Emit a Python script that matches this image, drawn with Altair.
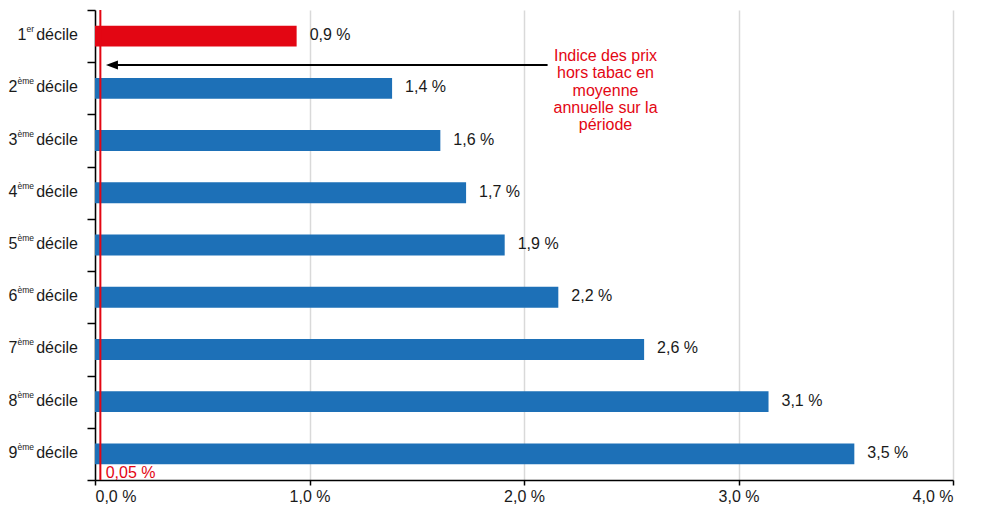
import altair as alt
import pandas as pd

# Data
deciles = ["1", "2", "3", "4", "5", "6", "7", "8", "9"]
sups = ["er", "ème", "ème", "ème", "ème", "ème", "ème", "ème", "ème"]
values = [0.94, 1.385, 1.61, 1.73, 1.91, 2.16, 2.56, 3.14, 3.54]
bar_colors = ["#e30613"] + ["#1d70b7"] * 8
ref_line = 0.025          # red vertical line position (as drawn)
ref_label = "0,05 %"
annot_lines = ["Indice des prix", "hors tabac en", "moyenne", "annuelle sur la", "période"]
x_ticks = [0, 1, 2, 3, 4]

RED = "#e30613"
FONT = "Liberation Sans"
FS = 16

df = pd.DataFrame({
    "cat": [f"{d}{s} décile" for d, s in zip(deciles, sups)],
    "digit": deciles,
    "sup": sups,
    "value": values,
    "color": bar_colors,
})
order = list(df["cat"])

y_enc = alt.Y("cat:N", sort=order,
              scale=alt.Scale(paddingInner=0, paddingOuter=0),
              axis=alt.Axis(title=None, labels=False, tickBand="extent",
                            domainColor="black", domainWidth=1.5,
                            tickColor="black", tickSize=8, tickWidth=1.5))
x_scale = alt.Scale(domain=[0, 4], nice=False)

base = alt.Chart(df)

bars = base.mark_bar(height=alt.RelativeBandSize(0.4)).encode(
    x=alt.X("value:Q", scale=x_scale,
            axis=alt.Axis(title=None, values=x_ticks, grid=True,
                          gridColor="#d9d9d9", gridWidth=1.5,
                          domainColor="black", domainWidth=1.5,
                          tickColor="black", tickSize=5, tickWidth=1.5,
                          labelFont=FONT, labelFontSize=FS, labelColor="#1a1a1a",
                          labelPadding=3,
                          labelExpr="replace(format(datum.value, '.1f'), '.', ',') + ' %'")),
    y=y_enc,
    color=alt.Color("color:N", scale=None),
)

vals = base.transform_calculate(
    lab="replace(format(datum.value, '.1f'), '.', ',') + ' %'"
).mark_text(align="left", baseline="middle", dx=13, dy=-1,
            font=FONT, fontSize=FS, color="#1a1a1a").encode(
    x=alt.X("value:Q", scale=x_scale), y=alt.Y("cat:N", sort=order), text="lab:N")

lab_word = base.mark_text(align="right", baseline="middle", dy=-1,
                          font=FONT, fontSize=FS, color="#1a1a1a").encode(
    x=alt.value(-17), y=alt.Y("cat:N", sort=order), text=alt.value("décile"))

lab_sup = base.mark_text(align="right", baseline="middle", dy=-7,
                         font=FONT, fontSize=8.5, color="#1a1a1a").encode(
    x=alt.value(-61), y=alt.Y("cat:N", sort=order), text="sup:N")

lab_digit_first = base.transform_filter("datum.sup == 'er'").mark_text(
    align="right", baseline="middle", dy=-1, font=FONT, fontSize=FS, color="#1a1a1a").encode(
    x=alt.value(-68.5), y=alt.Y("cat:N", sort=order), text="digit:N")

lab_digit_rest = base.transform_filter("datum.sup != 'er'").mark_text(
    align="right", baseline="middle", dy=-1, font=FONT, fontSize=FS, color="#1a1a1a").encode(
    x=alt.value(-77.5), y=alt.Y("cat:N", sort=order), text="digit:N")

red_rule = alt.Chart(pd.DataFrame({"v": [ref_line]})).mark_rule(
    color=RED, strokeWidth=2).encode(x=alt.X("v:Q", scale=x_scale))

red_label = alt.Chart(pd.DataFrame({"v": [0.05], "t": [ref_label]})).mark_text(
    align="left", baseline="alphabetic", font=FONT, fontSize=FS, color=RED).encode(
    x=alt.X("v:Q", scale=x_scale), y=alt.value(468), text="t:N")

arrow_line = alt.Chart(pd.DataFrame({"a": [0.079], "b": [2.11]})).mark_rule(
    color="black", strokeWidth=2).encode(
    x=alt.X("a:Q", scale=x_scale), x2="b:Q", y=alt.value(55))

arrow_head = alt.Chart(pd.DataFrame({"a": [0.079]})).mark_point(
    shape="M -1 0 L 1 -0.75 L 1 0.75 Z", size=144, filled=True,
    color="black", opacity=1).encode(
    x=alt.X("a:Q", scale=x_scale), y=alt.value(55))

annot = alt.Chart(pd.DataFrame({"v": [2.38], "t": ["\n".join(annot_lines)]})).mark_text(
    align="center", baseline="top", lineBreak="\n", lineHeight=17.3,
    font=FONT, fontSize=FS, color=RED).encode(
    x=alt.X("v:Q", scale=x_scale), y=alt.value(38), text="t:N")

chart = alt.layer(
    bars, red_rule, vals, lab_word, lab_sup, lab_digit_first, lab_digit_rest,
    red_label, arrow_line, arrow_head, annot
).properties(
    width=858, height=470,
    autosize=alt.AutoSizeParams(type="none"),
    padding={"left": 87, "top": 2, "right": 20, "bottom": 30},
).configure_view(stroke=None).configure_axis(labelFont=FONT)

chart.save("out.html", embed_options={"renderer": "svg", "actions": False})
